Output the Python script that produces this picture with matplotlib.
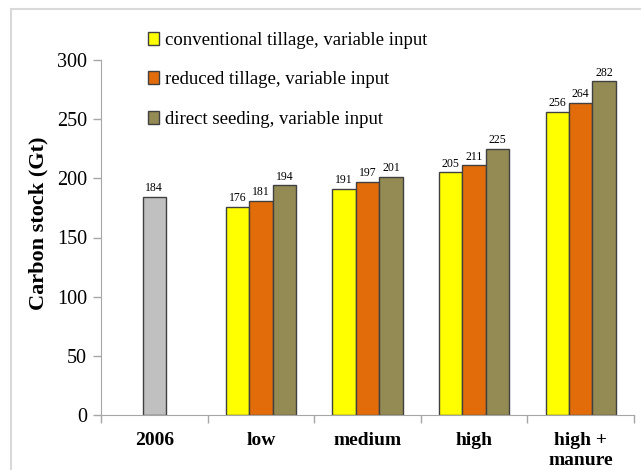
import matplotlib.pyplot as plt
from matplotlib.patches import Rectangle, Patch

plt.rcParams['font.family'] = ['Liberation Serif', 'DejaVu Serif']

categories = ["2006", "low", "medium", "high", "high +\nmanure"]
base_2006 = [184]
conventional = [176, 191, 205, 256]
reduced = [181, 197, 211, 264]
direct = [194, 201, 225, 282]
series_labels = ["conventional tillage, variable input",
                 "reduced tillage, variable input",
                 "direct seeding, variable input"]
colors = ["#FFFF00", "#E36C0A", "#948A54"]
edge = "#404040"
axis_gray = "#A6A6A6"

fig = plt.figure(figsize=(6.41, 4.70), dpi=100)
ax = fig.add_axes([101 / 641, 1 - 415 / 470, 533 / 641, 355 / 470])

w = 0.22
b = ax.bar([0], base_2006, w, color="#C0C0C0", edgecolor=edge, linewidth=1)
ax.bar_label(b, padding=2, fontsize=8.5)
groups = [1, 2, 3, 4]
for i, (vals, c) in enumerate(zip([conventional, reduced, direct], colors)):
    xs = [g + (i - 1) * w for g in groups]
    bars = ax.bar(xs, vals, w, color=c, edgecolor=edge, linewidth=1)
    ax.bar_label(bars, padding=2, fontsize=8.5)

ax.set_xlim(-0.5, 4.5)
ax.set_ylim(0, 300)
ax.set_yticks([0, 50, 100, 150, 200, 250, 300])
ax.tick_params(axis="y", labelsize=14.5, color=axis_gray, length=6, width=1, pad=4)
ax.set_xticks(range(len(categories)))
ax.set_xticklabels(categories, fontsize=14, fontweight="bold", linespacing=1.25)
ax.tick_params(axis="x", length=0, pad=12)
ax.set_xticks([-0.5, 0.5, 1.5, 2.5, 3.5, 4.5], minor=True)
ax.tick_params(axis="x", which="minor", length=6, color=axis_gray, width=1)
for s in ["top", "right"]:
    ax.spines[s].set_visible(False)
for s in ["left", "bottom"]:
    ax.spines[s].set_color(axis_gray)
ax.set_ylabel("Carbon stock (Gt)", fontsize=16, fontweight="bold")
ax.yaxis.set_label_coords(-0.098, 0.54)

handles = [Patch(facecolor=c, edgecolor=edge, linewidth=1) for c in colors]
fig.legend(handles, series_labels, loc="upper left", bbox_to_anchor=(140 / 641, 1 - 24 / 470),
           frameon=False, fontsize=13.5, handlelength=0.6, handleheight=0.7,
           handletextpad=0.35, labelspacing=1.2, borderaxespad=0)

fig.add_artist(Rectangle((11 / 641, -0.1), 1.2, 1.1 - 9 / 470, transform=fig.transFigure,
                         fill=False, edgecolor="#D9D9D9", linewidth=1.5))

fig.savefig("out.png", dpi=100)
